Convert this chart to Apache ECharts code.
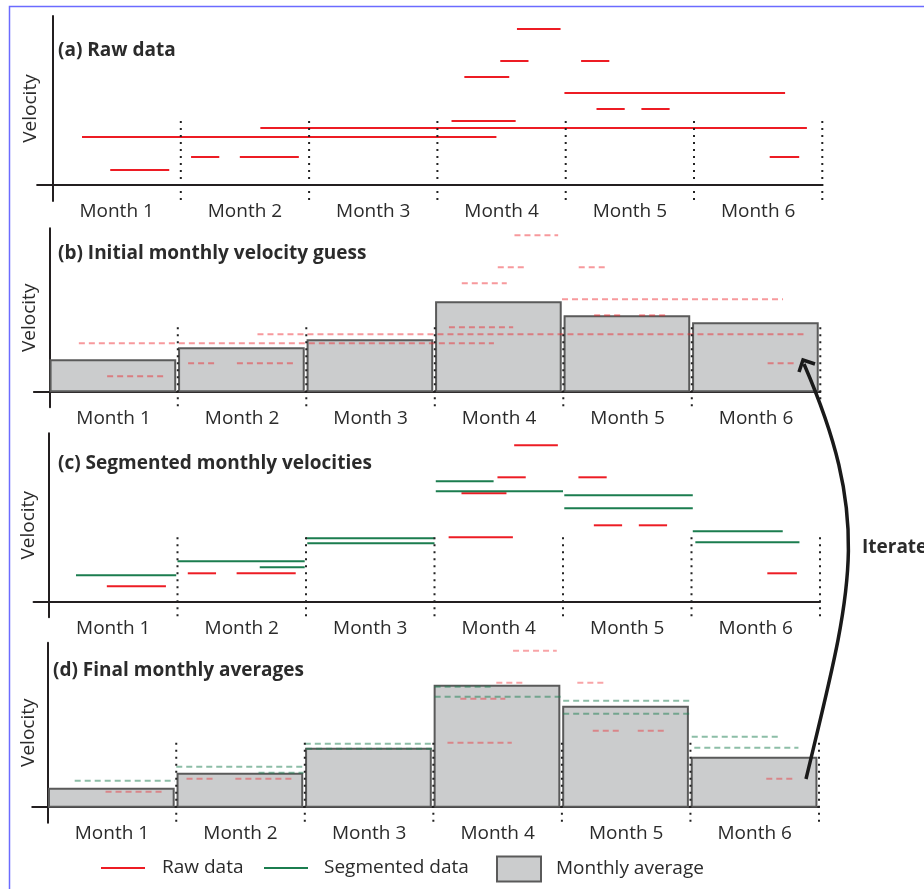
<!DOCTYPE html>
<html><head><meta charset="utf-8">
<script src="https://cdn.jsdelivr.net/npm/echarts@6/dist/echarts.min.js"></script>
<style>html,body{margin:0;padding:0;background:#fff}#c{width:924px;height:889px}</style>
</head><body><div id="c"></div>
<script>
// ---------- data ----------
const monthLabels = ['Month 1', 'Month 2', 'Month 3', 'Month 4', 'Month 5', 'Month 6'];
const monthCenters = [0.5, 1.5, 2.5, 3.5, 4.5, 5.5];
const monthBounds = [1, 2, 3, 4, 5, 6];

// raw velocity measurements: time span (in months) and velocity
const rawStart = [0.23, 1.62, 0.45, 1.08, 1.46, 3.11, 3.21, 3.49, 3.62, 4.12, 3.99, 4.24, 4.59, 5.59];
const rawEnd   = [3.46, 5.88, 0.91, 1.30, 1.92, 3.61, 3.56, 3.71, 3.96, 4.34, 5.71, 4.46, 4.81, 5.82];
const rawVel   = [48, 57, 15, 28, 28, 64, 108, 124, 156, 124, 92, 76, 76, 28];

// segmented velocities (multi-month measurements split per month)
const segStart = [0.21, 1.00, 1.64, 2.00, 2.01, 3.01, 3.01, 4.01, 4.01, 5.01, 5.03];
const segEnd   = [0.99, 1.99, 1.99, 3.00, 3.00, 3.46, 4.00, 5.01, 5.01, 5.71, 5.84];
const segVel   = [26, 40, 34, 63, 58, 120, 110, 106, 93, 70, 59];

const initialAvg = [31, 43, 51, 89, 75, 68];
const finalAvg   = [18, 33, 58, 121, 100, 49];

// ---------- build ----------
const C = {text: '#2b2b2b', axis: '#231f20', red: '#ed1c24', green: '#1b7d4f',
           barFill: '#cbcccd', barEdge: '#5a5a5a', dot: '#222222'};
const FONT = "'Open Sans', sans-serif";

const rawAll = rawStart.map((s, i) => [s, rawEnd[i], rawVel[i]]);
const rawShort = rawAll.filter(d => Math.floor(d[0]) === Math.floor(d[1] - 1e-6));
const segAll = segStart.map((s, i) => [s, segEnd[i], segVel[i]]);

// panels layout: origin x of month 0, month width, axis y, y max, name gap
const panels = [
  {ox: 52.5, w: 128.3, ay: 185.0, ymax: 169, ng: -2.5},
  {ox: 49.3, w: 128.5, ay: 391.3, ymax: 163, ng: -5.7},
  {ox: 49.0, w: 128.5, ay: 601.3, ymax: 168, ng: -4.5},
  {ox: 47.7, w: 128.55, ay: 806.7, ymax: 164, ng: -5.8}
];
const XMIN = -0.12, XMAX = 6, YMIN = -16;

const grids = [], xAxes = [], yAxes = [];
panels.forEach((p, k) => {
  grids.push({left: p.ox + XMIN * p.w, width: (XMAX - XMIN) * p.w,
              top: p.ay - p.ymax, height: p.ymax - YMIN, containLabel: false, outerBoundsMode: 'none'});
  xAxes.push({type: 'value', gridIndex: k, min: XMIN, max: XMAX,
    axisLine: {show: true, onZero: true, lineStyle: {color: C.axis, width: 2}},
    axisTick: {show: false}, splitLine: {show: false},
    axisLabel: {customValues: monthCenters, formatter: v => monthLabels[Math.round(v - 0.5)],
      margin: 0, fontFamily: FONT, fontSize: 19, lineHeight: 22, color: C.text}});
  yAxes.push({type: 'value', gridIndex: k, min: YMIN, max: p.ymax,
    name: 'Velocity', nameLocation: 'middle', nameGap: p.ng,
    nameTextStyle: {fontFamily: FONT, fontSize: 19, color: C.text},
    axisLine: {show: true, onZero: true, lineStyle: {color: C.axis, width: 2}},
    axisTick: {show: false}, axisLabel: {show: false}, splitLine: {show: false}});
});

function segRender(stroke, width, dash, opacity) {
  return function (params, api) {
    const p1 = api.coord([api.value(0), api.value(2)]);
    const p2 = api.coord([api.value(1), api.value(2)]);
    const style = {stroke: stroke, lineWidth: width, opacity: opacity, lineCap: 'butt'};
    if (dash) style.lineDash = dash;
    return {type: 'line', shape: {x1: p1[0], y1: p1[1], x2: p2[0], y2: p2[1]}, style: style};
  };
}
function dividerRender(params, api) {
  const x = api.value(0);
  const p1 = api.coord([x, 64]);
  const p2 = api.coord([x, -16]);
  return {type: 'line', shape: {x1: p1[0], y1: p1[1], x2: p2[0], y2: p2[1]},
          style: {stroke: C.dot, lineWidth: 2, lineDash: [2, 5], lineCap: 'butt'}};
}
function barRender(params, api) {
  const i = api.value(0), v = api.value(1);
  const tl = api.coord([i + 0.01, v]);
  const br = api.coord([i + 1 - 0.02, 0]);
  return {type: 'rect', shape: {x: tl[0], y: tl[1], width: br[0] - tl[0], height: br[1] - tl[1]},
          style: {fill: C.barFill, stroke: C.barEdge, lineWidth: 2}};
}

const series = [];
function addSeg(name, k, data, color, width, dash, opacity, z) {
  series.push({type: 'custom', name: name, xAxisIndex: k, yAxisIndex: k, data: data,
    encode: {x: [0, 1], y: 2}, renderItem: segRender(color, width, dash, opacity),
    itemStyle: {color: color}, z: z, silent: true});
}
function addBars(k, vals) {
  series.push({type: 'custom', name: 'Monthly average', xAxisIndex: k, yAxisIndex: k,
    data: vals.map((v, i) => [i, v]), encode: {x: 0, y: 1}, renderItem: barRender,
    itemStyle: {color: C.barFill, borderColor: C.barEdge, borderWidth: 2}, z: 2, silent: true});
}
function addDividers(k) {
  series.push({type: 'custom', name: 'dividers', xAxisIndex: k, yAxisIndex: k,
    data: monthBounds.map(m => [m]), encode: {x: 0}, renderItem: dividerRender, z: 6, silent: true});
}

// (a)
addSeg('Raw data', 0, rawAll, C.red, 2, null, 1, 4);
addDividers(0);
// (b)
addBars(1, initialAvg);
addSeg('Raw data', 1, rawAll, C.red, 2, [6, 4], 0.45, 4);
addDividers(1);
// (c)
addSeg('Raw data', 2, rawShort, C.red, 2, null, 1, 4);
addSeg('Segmented data', 2, segAll, C.green, 2, null, 1, 4);
addDividers(2);
// (d)
addBars(3, finalAvg);
addSeg('Raw data', 3, rawShort, C.red, 2, [6, 4], 0.4, 4);
addSeg('Segmented data', 3, segAll, C.green, 2, [6, 4], 0.5, 4);
addDividers(3);

const titleStyle = {fontFamily: FONT, fontSize: 19, fontWeight: 'bold', color: C.text, lineHeight: 24};
const legendText = {fontFamily: FONT, fontSize: 19, color: C.text, lineHeight: 24};

const option = {
  animation: false,
  backgroundColor: '#ffffff',
  title: [
    {text: '(a) Raw data', left: 58, top: 39, padding: 0, textStyle: titleStyle},
    {text: '(b) Initial monthly velocity guess', left: 58, top: 242, padding: 0, textStyle: titleStyle},
    {text: '(c) Segmented monthly velocities', left: 58, top: 452, padding: 0, textStyle: titleStyle},
    {text: '(d) Final monthly averages', left: 53, top: 659, padding: 0, textStyle: titleStyle}
  ],
  legend: [
    {left: 101, top: 856, padding: 0, itemWidth: 44, itemHeight: 2, selectedMode: false,
     data: [{name: 'Raw data', icon: 'rect', itemStyle: {color: C.red}}],
     textStyle: Object.assign({padding: [0, 0, 0, 12]}, legendText)},
    {left: 264, top: 856, padding: 0, itemWidth: 44, itemHeight: 2, selectedMode: false,
     data: [{name: 'Segmented data', icon: 'rect', itemStyle: {color: C.green}}],
     textStyle: Object.assign({padding: [0, 0, 0, 11]}, legendText)},
    {left: 496, top: 855.5, padding: 0, itemWidth: 44, itemHeight: 25, selectedMode: false,
     data: [{name: 'Monthly average', icon: 'rect',
             itemStyle: {color: C.barFill, borderColor: C.barEdge, borderWidth: 2}}],
     textStyle: Object.assign({padding: [0, 0, 0, 10]}, legendText)}
  ],
  grid: grids, xAxis: xAxes, yAxis: yAxes, series: series,
  graphic: [
    {type: 'rect', shape: {x: 9.5, y: 6.5, width: 1000, height: 1000},
     style: {fill: null, stroke: '#6b6bff', lineWidth: 1.5}, silent: true, z: 100},
    {type: 'bezierCurve', shape: {x1: 806, y1: 779, cpx1: 851.7, cpy1: 588.7, cpx2: 873.3, cpy2: 524.6, x2: 804, y2: 364},
     style: {stroke: '#1a1a1a', lineWidth: 3.5, fill: null}, silent: true, z: 100},
    {type: 'polyline', shape: {points: [[799, 372], [803, 360], [815, 364]]},
     style: {stroke: '#1a1a1a', lineWidth: 3.5, fill: null, lineJoin: 'miter'}, silent: true, z: 100},
    {type: 'text', x: 862, y: 548, style: {text: 'Iterate', fontFamily: FONT, fontSize: 19, fontWeight: 'bold',
     fill: C.text, textVerticalAlign: 'middle', textAlign: 'left'}, silent: true, z: 100}
  ]
};

const chart = echarts.init(document.getElementById('c'), null, {renderer: 'canvas', width: 924, height: 889});
chart.setOption(option);
</script>
</body></html>
